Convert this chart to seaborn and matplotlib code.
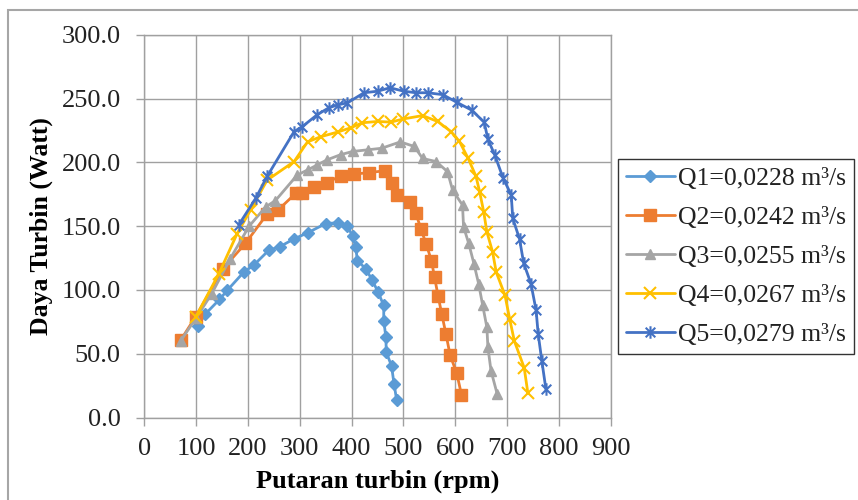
import matplotlib
matplotlib.use('Agg')
import matplotlib.pyplot as plt
import seaborn as sns
from matplotlib.path import Path
from matplotlib.patches import Rectangle

# Data (rpm, Watt)
q1_rpm = [103, 118, 145, 160, 192, 211, 240, 262, 289, 315, 350, 373, 392, 402, 408, 411,
          427, 440, 451, 462, 462, 466, 467, 477, 482, 487]
q1_daya = [72.0, 81.2, 92.5, 99.6, 114.0, 119.3, 131.0, 134.0, 140.0, 144.7, 152.0, 152.6,
           150.0, 142.0, 133.7, 123.0, 116.7, 107.5, 98.3, 87.8, 76.0, 63.4, 51.0, 40.5, 26.0, 13.5]

q2_rpm = [70, 99, 152, 195, 237, 258, 292, 304, 327, 352, 379, 405, 434, 465, 477, 487,
          512, 524, 534, 544, 554, 560, 567, 574, 582, 590, 603, 612]
q2_daya = [60.5, 79.0, 116.7, 136.4, 159.5, 162.6, 175.6, 175.7, 180.5, 184.0, 189.4, 190.7,
           192.0, 193.4, 184.0, 174.4, 169.0, 160.0, 147.5, 135.8, 123.0, 110.0, 95.0, 81.0,
           65.5, 49.0, 34.5, 17.8]

q3_rpm = [70, 100, 130, 166, 202, 234, 253, 295, 315, 334, 353, 379, 402, 431, 458, 494,
          521, 537, 563, 585, 595, 614, 616, 626, 636, 645, 653, 661, 663, 669, 681]
q3_daya = [60.0, 78.0, 97.0, 124.6, 149.8, 165.0, 170.0, 190.0, 194.0, 198.0, 202.0, 206.0,
           208.5, 209.8, 211.0, 216.0, 212.4, 203.0, 200.6, 192.7, 178.0, 166.5, 149.5, 136.4,
           120.6, 105.0, 87.8, 70.7, 55.0, 36.6, 18.3]

q4_rpm = [99, 144, 179, 205, 237, 289, 315, 340, 373, 398, 421, 450, 476, 500, 537, 566,
          592, 608, 625, 640, 647, 655, 661, 672, 679, 696, 705, 714, 733, 740]
q4_daya = [78.6, 112.8, 144.0, 162.6, 186.0, 200.6, 216.0, 220.0, 223.7, 227.0, 231.0, 232.0,
           231.5, 234.0, 236.6, 232.0, 224.0, 216.4, 203.0, 189.0, 177.0, 161.0, 145.5, 129.8,
           114.0, 95.7, 77.3, 60.0, 39.0, 19.5]

q5_rpm = [182, 215, 237, 289, 305, 334, 356, 373, 392, 424, 450, 474, 501, 524, 547, 576,
          603, 632, 656, 663, 676, 692, 708, 711, 724, 732, 746, 756, 760, 767, 775]
q5_daya = [150.8, 171.8, 189.0, 224.0, 228.0, 237.4, 242.7, 245.0, 246.6, 254.5, 255.7, 258.4,
           255.7, 254.5, 254.5, 253.0, 247.0, 240.8, 231.3, 218.0, 206.0, 188.0, 174.4, 156.0,
           140.0, 121.0, 105.0, 84.0, 65.5, 44.5, 22.0]

labels = ['Q1=0,0228 m³/s', 'Q2=0,0242 m³/s', 'Q3=0,0255 m³/s',
          'Q4=0,0267 m³/s', 'Q5=0,0279 m³/s']
warna = ['#5B9BD5', '#ED7D31', '#A5A5A5', '#FFC000', '#4472C4']
x_ticks = [0, 100, 200, 300, 400, 500, 600, 700, 800, 900]
y_ticks = [0, 50, 100, 150, 200, 250, 300]

# Excel style "star" marker: an x with a vertical stroke
bintang = Path([(-1, -1), (1, 1), (-1, 1), (1, -1), (0, -1.3), (0, 1.3)],
               [Path.MOVETO, Path.LINETO, Path.MOVETO, Path.LINETO, Path.MOVETO, Path.LINETO])

sns.set_theme(style='whitegrid')
plt.rcParams['font.family'] = ['Liberation Serif', 'DejaVu Serif']

fig = plt.figure(figsize=(8.58, 5.0), dpi=100)
ax = fig.add_axes([0.1682, 0.165, 0.5436, 0.7656])

seri = [(q1_rpm, q1_daya, 'D', 6, True), (q2_rpm, q2_daya, 's', 8, True),
        (q3_rpm, q3_daya, '^', 7.5, True), (q4_rpm, q4_daya, 'x', 8, False),
        (q5_rpm, q5_daya, bintang, 9, False)]

for (xs, ys, mk, ms, isi), lbl, c in zip(seri, labels, warna):
    sns.lineplot(x=xs, y=ys, ax=ax, estimator=None, sort=False, color=c, lw=2.0,
                 marker=mk, markersize=ms, markeredgecolor=c,
                 markerfacecolor=c if isi else 'none',
                 markeredgewidth=1.0 if isi else 1.5, label=lbl, legend=False)

ax.set_xlim(0, 900)
ax.set_ylim(0, 300)
ax.set_xticks(x_ticks)
ax.set_yticks(y_ticks)
ax.set_yticklabels([f'{v:.1f}' for v in y_ticks])
ax.grid(True, color='#A0A0A0', lw=1.0)
for s in ax.spines.values():
    s.set_color('#A0A0A0')
    s.set_linewidth(1.0)
ax.tick_params(axis='both', which='major', direction='out', length=6, width=1.0,
               color='#A0A0A0', labelsize=19, labelcolor='#222222')
ax.tick_params(axis='x', bottom=True, pad=9)
ax.tick_params(axis='y', left=True, pad=11)

ax.set_xlabel('Putaran turbin (rpm)', fontsize=19, fontweight='bold', color='black', labelpad=7)
ax.set_ylabel('Daya Turbin (Watt)', fontsize=18.5, fontweight='bold', color='black', labelpad=6)

leg = ax.legend(loc='upper left', bbox_to_anchor=(618 / 858, 1 - 159 / 500),
                bbox_transform=fig.transFigure, fontsize=18.5, frameon=True, fancybox=False,
                edgecolor='black', borderpad=0.3, labelspacing=0.63, handlelength=1.9,
                handletextpad=0.15, borderaxespad=0)
leg.get_frame().set_linewidth(1.0)
for t in leg.get_texts():
    t.set_color('#222222')

# frame of the chart area (cut off on the right and bottom)
fig.patches.append(Rectangle((8 / 858, -0.1), 2, 1.1 - 10 / 500, transform=fig.transFigure,
                             fill=False, edgecolor='#A6A6A6', lw=1.5))

fig.savefig('out.png', dpi=100)
